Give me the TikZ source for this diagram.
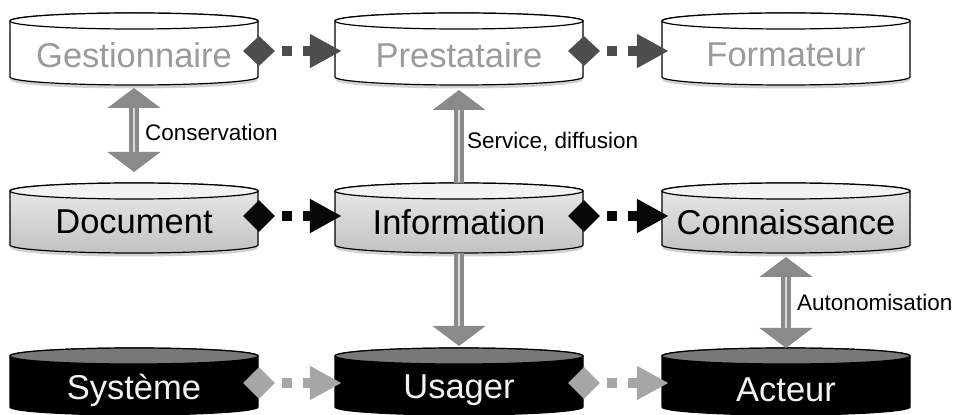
\documentclass[tikz,border=0pt]{standalone}
\usepackage{fontspec}
\setmainfont{Liberation Sans}
\usetikzlibrary{arrows.meta,shapes.geometric,calc}
\definecolor{toptxt}{HTML}{9B9B9B}
\definecolor{botxt}{HTML}{F2F2F2}
\definecolor{cdark}{HTML}{4D4D4D}
\definecolor{cblack}{HTML}{080808}
\definecolor{clight}{HTML}{A6A6A6}
\definecolor{vgray}{HTML}{8A8A8A}
\definecolor{vstripe}{HTML}{DADADA}
\definecolor{midtop}{HTML}{F2F2F2}
\definecolor{midbody1}{HTML}{EBEBEB}
\definecolor{midbody2}{HTML}{C2C2C2}
\definecolor{bottop}{HTML}{787878}
% #1 cx, #2 Y top ellipse centre, #3 Y bottom ellipse centre, #4 body style, #5 top style, #6 name
\newcommand\cylshape[6]{%
  \coordinate (#6-top) at (#1,#2+8);
  \coordinate (#6-bot) at (#1,#3-8);
  \path[#4] (#1-124,#2) -- (#1-124,#3)
     arc[start angle=180,end angle=360,x radius=124pt,y radius=8pt]
     -- (#1+124,#2)
     arc[start angle=0,end angle=180,x radius=124pt,y radius=8pt] -- cycle;
  \path[#5] (#1,#2) ellipse[x radius=124pt,y radius=8pt];
}
\newcommand\cylshadow[2]{%
  \path[draw=black!18,line width=4pt] (#1-122,#2-1.5)
     arc[start angle=180,end angle=360,x radius=122pt,y radius=8pt];
}
\tikzset{
  x=1pt,y=1pt,
  outl/.style={draw=black,line width=1.2pt},
  topbody/.style={outl,fill=white},
  toptop/.style={outl,fill=white},
  midbodys/.style={outl,top color=midbody1,bottom color=midbody2},
  midtops/.style={outl,fill=midtop},
  botbody/.style={outl,fill=black},
  bottops/.style={outl,fill=bottop},
  cylname/.style={inner sep=0pt,minimum width=248pt,font=\fontsize{34.5}{40}\selectfont},
  topname/.style={cylname,text=toptxt},
  midname/.style={cylname,text=black},
  botname/.style={cylname,text=botxt},
  dia/.style={diamond,inner sep=0pt,minimum width=32pt,minimum height=32pt,fill=#1},
  hc/.style={draw=#1,line width=10pt,dash pattern=on 0pt off 7pt on 10pt off 11pt on 200pt,
     -{Triangle[length=32pt,width=32pt]}},
  vshaft/.style={draw=vgray,line width=10pt},
  vstripe/.style={draw=vstripe,line width=2.6pt},
  lab/.style={anchor=west,inner sep=0pt,font=\fontsize{22.5}{26}\selectfont},
}
\begin{document}
\begin{tikzpicture}
\useasboundingbox (0,0) rectangle (956,415);
% shadows
\cylshadow{134}{338}\cylshadow{459}{338}\cylshadow{786}{338}
\cylshadow{134}{170}\cylshadow{459}{170}\cylshadow{786}{170}
% cylinders
\cylshape{134}{394}{338}{topbody}{toptop}{Gc}
\cylshape{459}{394}{338}{topbody}{toptop}{Pc}
\cylshape{786}{394}{338}{topbody}{toptop}{Fc}
\cylshape{134}{224}{170}{midbodys}{midtops}{Dc}
\cylshape{459}{224}{170}{midbodys}{midtops}{Ic}
\cylshape{786}{224}{170}{midbodys}{midtops}{Cc}
\cylshape{134}{59}{8}{botbody}{bottops}{Sc}
\cylshape{459}{59}{8}{botbody}{bottops}{Uc}
\cylshape{786}{59}{8}{botbody}{bottops}{Ac}
% names
\node[topname] (G) at (134,360) {Gestionnaire};
\node[topname] (P) at (459,360) {Prestataire};
\node[topname] (F) at (786,360) {Formateur};
\node[midname] (D) at (134,193) {Document};
\node[midname] (I) at (459,193) {Information};
\node[midname] (C) at (786,193) {Connaissance};
\node[botname] (S) at (134,25) {Système};
\node[botname] (U) at (459,25) {Usager};
\node[botname] (A) at (786,25) {Acteur};
% horizontal connectors
\node[dia=cdark,minimum height=30pt] (d1) at (259,364) {};
\node[dia=cdark,minimum height=30pt] (d2) at (584,364) {};
\node[dia=cblack] (d3) at (259,199) {};
\node[dia=cblack] (d4) at (584,199) {};
\node[dia=clight] (d5) at (259,32) {};
\node[dia=clight] (d6) at (584,32) {};
\draw[hc=cdark] (d1.east) -- ($(d1.east -| P.west)+(7,0)$);
\draw[hc=cdark] (d2.east) -- ($(d2.east -| F.west)+(7,0)$);
\draw[hc=cblack] (d3.east) -- ($(d3.east -| I.west)+(7,0)$);
\draw[hc=cblack] (d4.east) -- ($(d4.east -| C.west)+(7,0)$);
\draw[hc=clight] (d5.east) -- ($(d5.east -| U.west)+(7,0)$);
\draw[hc=clight] (d6.east) -- ($(d6.east -| A.west)+(7,0)$);
% vertical arrows
\draw[vshaft,{Triangle[length=20pt,width=52pt]}-{Triangle[length=20pt,width=52pt]},shorten <=3pt,shorten >=11pt] (Gc-bot) -- (Dc-top);
\draw[vstripe,shorten <=23pt,shorten >=31pt] (Gc-bot) -- (Dc-top);
\draw[vshaft,-{Triangle[length=20pt,width=52pt]},shorten >=5pt] (Ic-top) -- (Pc-bot);
\draw[vstripe,shorten <=1pt,shorten >=25pt] (Ic-top) -- (Pc-bot);
\draw[vshaft,-{Triangle[length=20pt,width=52pt]},shorten >=2pt] (Ic-bot) -- (Uc-top);
\draw[vstripe,shorten <=1pt,shorten >=22pt] (Ic-bot) -- (Uc-top);
\draw[vshaft,{Triangle[length=20pt,width=52pt]}-{Triangle[length=20pt,width=52pt]},shorten <=4pt] (Cc-bot) -- (Ac-top);
\draw[vstripe,shorten <=24pt,shorten >=20pt] (Cc-bot) -- (Ac-top);
% labels
\node[lab] (l1) at (145,283) {Conservation};
\node[lab] (l2) at (467,273) {Service, diffusion};
\node[lab] (l3) at (797,113) {Autonomisation};
\end{tikzpicture}
\end{document}
